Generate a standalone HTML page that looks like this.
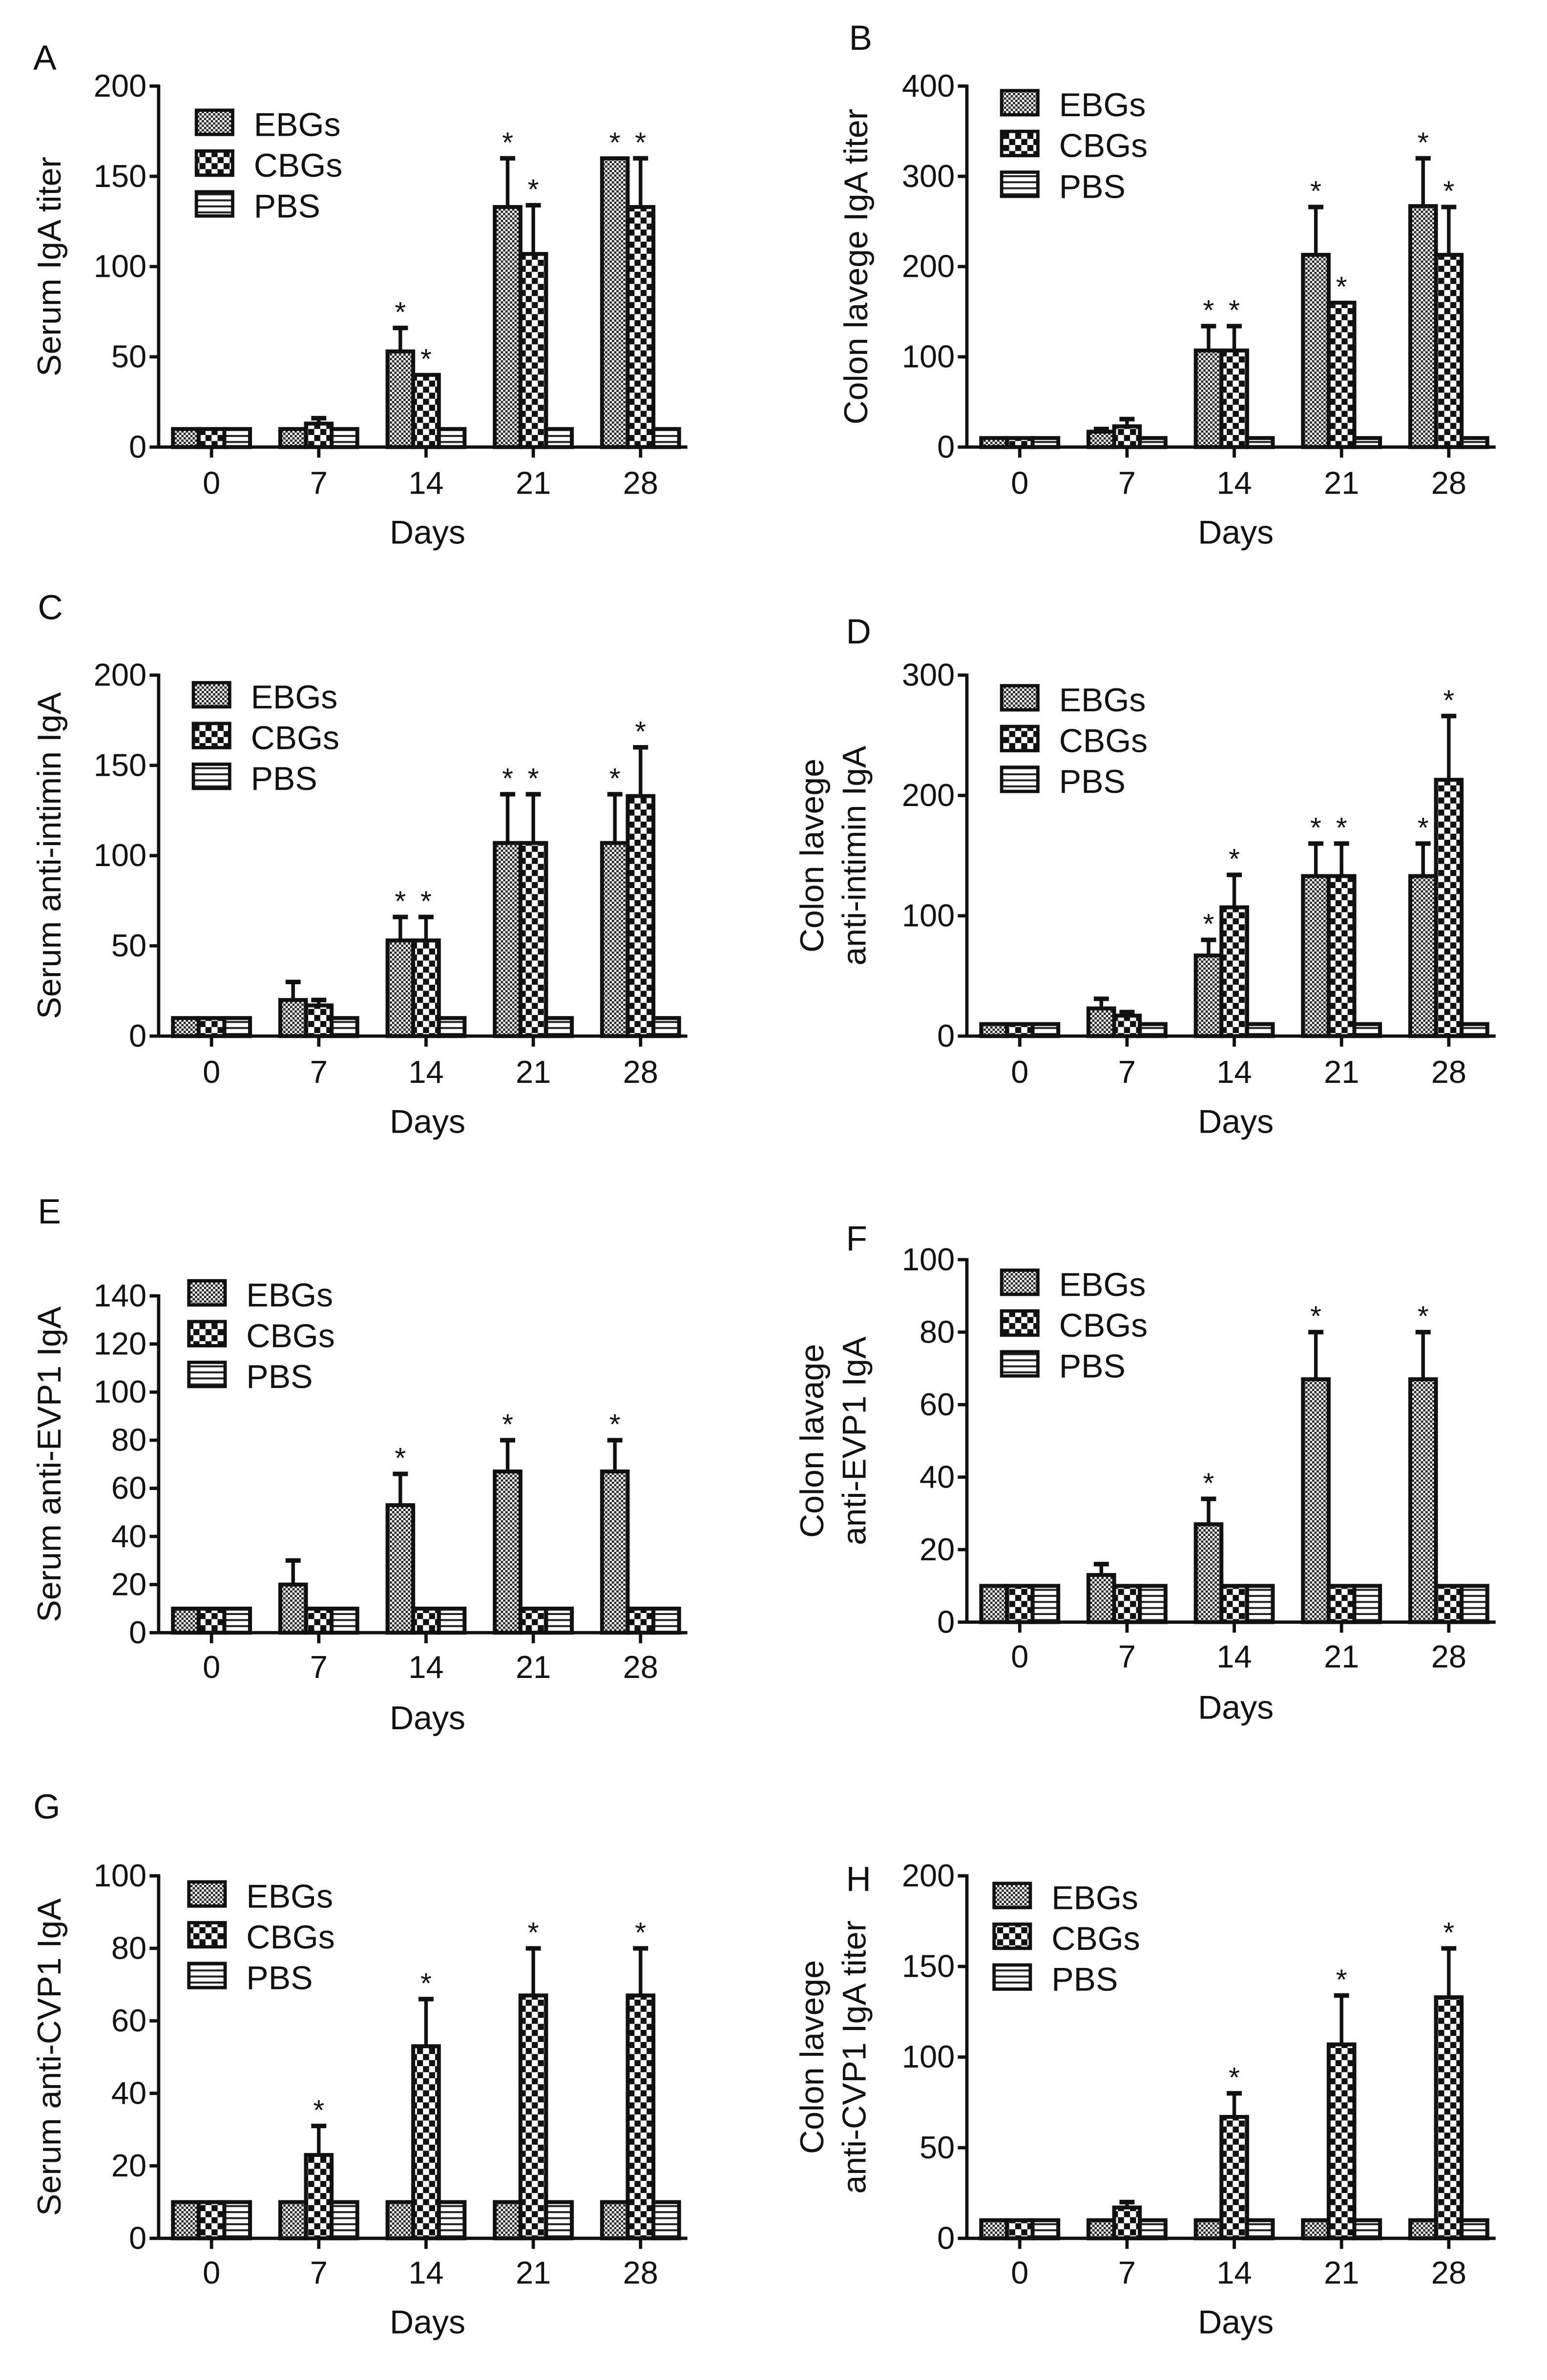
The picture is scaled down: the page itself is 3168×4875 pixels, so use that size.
<!DOCTYPE html>
<html><head><meta charset="utf-8"><style>html,body{margin:0;padding:0;background:#fff}svg{display:block}</style></head>
<body>
<svg id="fig" xmlns="http://www.w3.org/2000/svg" width="3168" height="4875" viewBox="0 0 1024 1575.8" font-family="Liberation Sans, sans-serif">
<defs>
<pattern id="pE" width="3" height="3" patternUnits="userSpaceOnUse"><rect width="3" height="3" fill="#fff"/><rect width="1.5" height="1.5" fill="#222"/><rect x="1.5" y="1.5" width="1.5" height="1.5" fill="#222"/></pattern>
<pattern id="pC" width="8" height="8" patternUnits="userSpaceOnUse"><rect width="8" height="8" fill="#fff"/><rect width="4" height="4" fill="#111"/><rect x="4" y="4" width="4" height="4" fill="#111"/></pattern>
<pattern id="pP" width="4" height="4" patternUnits="userSpaceOnUse"><rect width="4" height="4" fill="#fff"/><rect y="0" width="4" height="1.3" fill="#222"/></pattern>
</defs>
</svg>
<script>
const categories=["0","7","14","21","28"];
const seriesNames=["EBGs","CBGs","PBS"];
const aE=[10,10,53,133,160], aEe=[0,0,13,27,0], aC=[10,13,40,107,133], aCe=[0,3,0,27,27], aP=[10,10,10,10,10];
const bE=[10,17,107,213,267], bEe=[0,3,27,53,53], bC=[10,23,107,160,213], bCe=[0,8,27,0,53], bP=[10,10,10,10,10];
const cE=[10,20,53,107,107], cEe=[0,10,13,27,27], cC=[10,17,53,107,133], cCe=[0,3,13,27,27], cP=[10,10,10,10,10];
const dE=[10,23,67,133,133], dEe=[0,8,13,27,27], dC=[10,17,107,133,213], dCe=[0,3,27,27,53], dP=[10,10,10,10,10];
const eE=[10,20,53,67,67], eEe=[0,10,13,13,13], eC=[10,10,10,10,10], eCe=[0,0,0,0,0], eP=[10,10,10,10,10];
const fE=[10,13,27,67,67], fEe=[0,3,7,13,13], fC=[10,10,10,10,10], fCe=[0,0,0,0,0], fP=[10,10,10,10,10];
const gE=[10,10,10,10,10], gEe=[0,0,0,0,0], gC=[10,23,53,67,67], gCe=[0,8,13,13,13], gP=[10,10,10,10,10];
const hE=[10,10,10,10,10], hEe=[0,0,0,0,0], hC=[10,17,67,107,133], hCe=[0,3,13,27,27], hP=[10,10,10,10,10];
const starsA=[[0,0,1,1,1],[0,0,1,1,1]], starsB=[[0,0,1,1,1],[0,0,1,1,1]], starsC=[[0,0,1,1,1],[0,0,1,1,1]], starsD=[[0,0,1,1,1],[0,0,1,1,1]];
const starsE=[[0,0,1,1,1],[0,0,0,0,0]], starsF=[[0,0,1,1,1],[0,0,0,0,0]], starsG=[[0,0,0,0,0],[0,1,1,1,1]], starsH=[[0,0,0,0,0],[0,0,1,1,1]];
const ticksA=[0,50,100,150,200], ticksB=[0,100,200,300,400], ticksC=[0,50,100,150,200], ticksD=[0,100,200,300];
const ticksE=[0,20,40,60,80,100,120,140], ticksF=[0,20,40,60,80,100], ticksG=[0,20,40,60,80,100], ticksH=[0,50,100,150,200];

const NS="http://www.w3.org/2000/svg", svg=document.getElementById('fig');
function mk(t,a,p){const e=document.createElementNS(NS,t);for(const k in a)e.setAttribute(k,a[k]);(p||svg).appendChild(e);return e;}
function txt(s,x,y,size,anchor,p){const e=mk('text',{x:x,y:y,'font-size':size,'text-anchor':anchor||'start',fill:'#111'},p);e.textContent=s;return e;}

const panels=[
 {id:'a',L:'A',lx:22,ly:46,ax:105,y0:296,yt:57,max:200,ticks:ticksA,xe:455,s:[aE,aC,aP],e:[aEe,aCe,[0,0,0,0,0]],st:starsA,yl:["Serum IgA titer"],ylx:[40],lgx:130,lgy:82,xl:327,dl:360},
 {id:'b',L:'B',lx:562,ly:33,ax:640,y0:296,yt:57,max:400,ticks:ticksB,xe:990,s:[bE,bC,bP],e:[bEe,bCe,[0,0,0,0,0]],st:starsB,yl:["Colon lavege IgA titer"],ylx:[574],lgx:663,lgy:69,xl:327,dl:360},
 {id:'c',L:'C',lx:25,ly:410,ax:105,y0:686,yt:447,max:200,ticks:ticksC,xe:455,s:[cE,cC,cP],e:[cEe,cCe,[0,0,0,0,0]],st:starsC,yl:["Serum anti-intimin IgA"],ylx:[40],lgx:128,lgy:461,xl:717,dl:750},
 {id:'d',L:'D',lx:560,ly:426,ax:640,y0:686,yt:447,max:300,ticks:ticksD,xe:990,s:[dE,dC,dP],e:[dEe,dCe,[0,0,0,0,0]],st:starsD,yl:["Colon lavege","anti-intimin IgA"],ylx:[545,573],lgx:663,lgy:463,xl:717,dl:750},
 {id:'e',L:'E',lx:25,ly:810,ax:105,y0:1081,yt:858,max:140,ticks:ticksE,xe:455,s:[eE,eC,eP],e:[eEe,eCe,[0,0,0,0,0]],st:starsE,yl:["Serum anti-EVP1 IgA"],ylx:[40],lgx:125,lgy:857,xl:1111,dl:1145},
 {id:'f',L:'F',lx:560,ly:828,ax:640,y0:1074,yt:834,max:100,ticks:ticksF,xe:990,s:[fE,fC,fP],e:[fEe,fCe,[0,0,0,0,0]],st:starsF,yl:["Colon lavage","anti-EVP1 IgA"],ylx:[545,573],lgx:663,lgy:850,xl:1104,dl:1138},
 {id:'g',L:'G',lx:22,ly:1204,ax:105,y0:1482,yt:1242,max:100,ticks:ticksG,xe:455,s:[gE,gC,gP],e:[gEe,gCe,[0,0,0,0,0]],st:starsG,yl:["Serum anti-CVP1 IgA"],ylx:[40],lgx:125,lgy:1255,xl:1512,dl:1545},
 {id:'h',L:'H',lx:560,ly:1252,ax:640,y0:1482,yt:1242,max:200,ticks:ticksH,xe:990,s:[hE,hC,hP],e:[hEe,hCe,[0,0,0,0,0]],st:starsH,yl:["Colon lavege","anti-CVP1 IgA titer"],ylx:[545,573],lgx:658,lgy:1256,xl:1512,dl:1545}
];
const fills=['url(#pE)','url(#pC)','url(#pP)'];
const BW=17;
panels.forEach(P=>{
 const g=mk('g',{});
 
 
 const y=v=>P.y0-(v/P.max)*(P.y0-P.yt);
 const cx=i=>P.ax+35+i*71;
 const lt=txt(P.L,P.lx,P.ly,23,'start',g);
 
 
 P.s.forEach((ser,si)=>{
  ser.forEach((v,i)=>{
   const x=cx(i)-1.5*BW+si*BW;
   const r=mk('rect',{x:x,y:y(v),width:BW,height:P.y0-y(v),fill:fills[si],stroke:'#111','stroke-width':2.6},g);
   
   
   const err=P.e[si][i];
   const bxc=x+BW/2;
   let top=y(v);
   if(err>0){
    const yt=y(v+err);
    mk('line',{x1:bxc,y1:y(v),x2:bxc,y2:yt,stroke:'#111','stroke-width':2.4},g);
    mk('line',{x1:bxc-5,y1:yt,x2:bxc+5,y2:yt,stroke:'#111','stroke-width':3},g);
    top=yt;
   }
   if(si<2&&P.st[si][i]){
    const s=txt('*',bxc,top-4,19,'middle',g);
    
    
   }
  });
 });
 const ya=mk('line',{x1:P.ax,y1:P.yt-1,x2:P.ax,y2:P.y0,stroke:'#111','stroke-width':2.2},g);
 
 
 const xa=mk('line',{x1:P.ax,y1:P.y0,x2:P.xe,y2:P.y0,stroke:'#111','stroke-width':2.2},g);
 
 
 P.ticks.forEach(t=>{
  mk('line',{x1:P.ax-6,y1:y(t),x2:P.ax,y2:y(t),stroke:'#111','stroke-width':2.2},g);
  const l=txt(String(t),P.ax-8,y(t)+7,21,'end',g);
  
  
 });
 categories.forEach((c,i)=>{
  mk('line',{x1:cx(i),y1:P.y0,x2:cx(i),y2:P.y0+7,stroke:'#111','stroke-width':2.2},g);
  const l=txt(c,cx(i),P.xl,21,'middle',g);
  
  
 });
 const d=txt('Days',P.ax+178,P.dl,22,'middle',g);
 
 
 const ym=(P.y0+P.yt)/2;
 P.yl.forEach((s,k)=>{
  const t=txt(s,0,0,22,'middle',g);
  t.setAttribute('transform','translate('+(P.ylx[k])+','+ym+') rotate(-90)');
  
  
 });
 seriesNames.forEach((n,si)=>{
  const yy=P.lgy+si*27;
  const b=mk('rect',{x:P.lgx,y:yy-9,width:24,height:16,fill:fills[si],stroke:'#111','stroke-width':2.2},g);
  
  
  const t=txt(n,P.lgx+38,yy+8,22,'start',g);
  
  
 });
});
</script>
</body></html>
